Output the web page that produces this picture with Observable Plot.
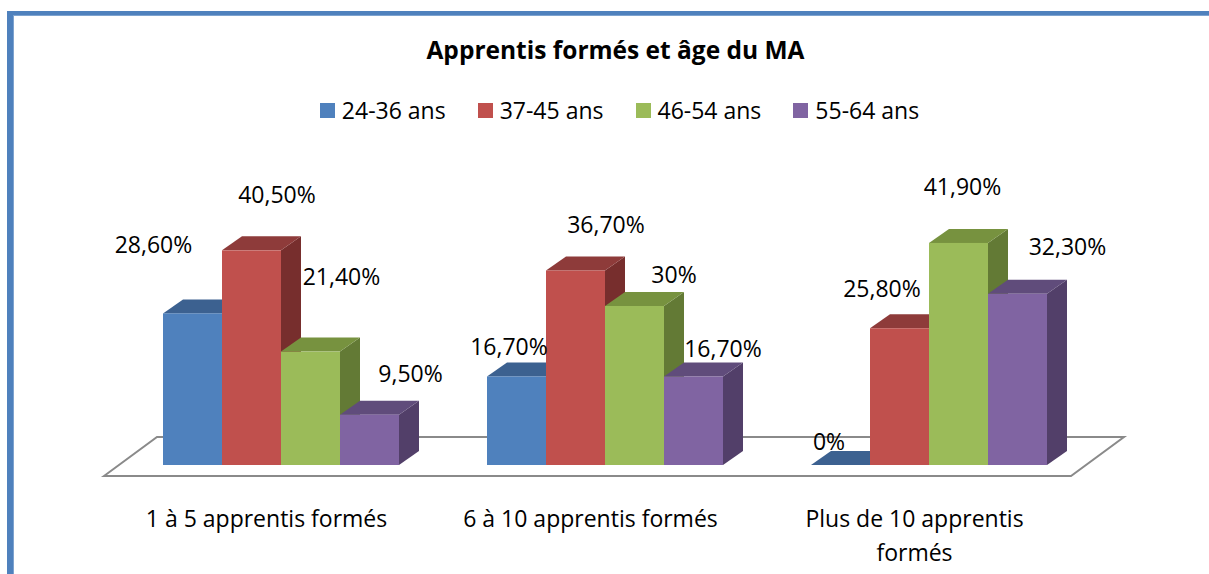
<!DOCTYPE html>
<html><head><meta charset="utf-8">
<script src="https://cdn.jsdelivr.net/npm/d3@7"></script>
<script src="https://cdn.jsdelivr.net/npm/@observablehq/plot@0.6"></script>
<style>
html,body{margin:0;padding:0;background:#fff;overflow:hidden;}
body{width:1209px;height:574px;position:relative;font-family:"Open Sans",sans-serif;color:#000;}
#frame{position:absolute;left:7px;top:11px;width:1300px;height:700px;border-left:6px solid #4f81bd;border-top:4px solid #4f81bd;box-sizing:border-box;box-shadow:inset 1px 1px 0 #7ea3cf;}
#title{position:absolute;top:35px;left:0;width:1209px;padding-left:22px;box-sizing:border-box;text-align:center;font-weight:700;font-size:24.5px;line-height:30px;}
#legend{position:absolute;top:95px;left:0;width:1209px;padding-left:30px;box-sizing:border-box;display:flex;justify-content:center;gap:32px;font-size:23px;line-height:30px;}
.item{display:flex;align-items:center;gap:7px;}
.sw{width:15px;height:15px;}
#chart{position:absolute;top:140px;left:0;}
</style></head>
<body>
<div id="frame"></div>
<div id="title"></div>
<div id="legend"></div>
<div id="chart"></div>
<script>
// ---- data ----
const chartTitle = "Apprentis formés et âge du MA";
const categories = ["1 à 5 apprentis formés", "6 à 10 apprentis formés", "Plus de 10 apprentis formés"];
const tickLabels = ["1 à 5 apprentis formés", "6 à 10 apprentis formés", "Plus de 10 apprentis\nformés"];
const ages = ["24-36 ans", "37-45 ans", "46-54 ans", "55-64 ans"];
const v24_36 = [28.6, 16.7, 0];
const v37_45 = [40.5, 36.7, 25.8];
const v46_54 = [21.4, 30, 41.9];
const v55_64 = [9.5, 16.7, 32.3];

// ---- styles ----
const frontColors = ["#4f81bd", "#c0504d", "#9bbb59", "#8064a2"];
const topColors = ["#3c6190", "#8e3b3a", "#77923f", "#604c7b"];
const sideColors = ["#34557e", "#772e2d", "#637a35", "#523f69"];
const DEPTH_X = 20, DEPTH_Y = -14;
// label nudges (px, relative to bar front-top centre), per category then age group
const labelNudges = [
  [[-39, -60], [25.5, -47], [31, -67], [41, -33]],
  [[-7.5, -21], [30.5, -37], [39.5, -23], [29.5, -19]],
  [[-11.5, -15], [-17.5, -31], [4, -48], [50, -38.5]]
];

const series = [v24_36, v37_45, v46_54, v55_64];
const rows = categories.flatMap((cat, ci) => ages.map((age, ai) => ({cat, age, value: series[ai][ci]})));
const fmt = v => (Number.isInteger(v) ? String(v) : v.toFixed(2).replace(".", ",")) + "%";

document.getElementById("title").textContent = chartTitle;
const legend = d3.select("#legend");
ages.forEach((a, i) => {
  const it = legend.append("div").attr("class", "item");
  it.append("div").attr("class", "sw").style("background", frontColors[i]);
  it.append("span").text(a);
});

const SVGNS = "http://www.w3.org/2000/svg";
function el(ctx, name) { return (ctx && ctx.document ? ctx.document : document).createElementNS(SVGNS, name); }
function bandwidthOf(s) { return typeof s.bandwidth === "function" ? s.bandwidth() : s.bandwidth; }
const pts = a => a.map(p => p.join(",")).join(" ");

function orderOf(index, values) {
  return Array.from(index).sort((i, j) =>
    (values.x[i] - values.x[j]) || (ages.indexOf(rows[i].age) - ages.indexOf(rows[j].age)));
}

function bars3d(index, scales, values, dims, ctx) {
  const g = el(ctx, "g");
  const sub = bandwidthOf(scales.x) / ages.length;
  const y0 = scales.y(0);
  for (const i of orderOf(index, values)) {
    const k = ages.indexOf(rows[i].age);
    const x0 = values.x[i] + k * sub, x1 = x0 + sub;
    const yt = scales.y(rows[i].value);
    const side = el(ctx, "polygon");
    side.setAttribute("points", pts([[x1, yt], [x1 + DEPTH_X, yt + DEPTH_Y], [x1 + DEPTH_X, y0 + DEPTH_Y], [x1, y0]]));
    side.setAttribute("fill", sideColors[k]);
    g.appendChild(side);
    const top = el(ctx, "polygon");
    top.setAttribute("points", pts([[x0, yt], [x1, yt], [x1 + DEPTH_X, yt + DEPTH_Y], [x0 + DEPTH_X, yt + DEPTH_Y]]));
    top.setAttribute("fill", topColors[k]);
    g.appendChild(top);
    const front = el(ctx, "rect");
    front.setAttribute("x", x0); front.setAttribute("y", yt);
    front.setAttribute("width", sub); front.setAttribute("height", Math.max(0, y0 - yt));
    front.setAttribute("fill", values.fill ? values.fill[i] : frontColors[k]);
    g.appendChild(front);
  }
  return g;
}

function labels3d(index, scales, values, dims, ctx) {
  const g = el(ctx, "g");
  g.setAttribute("font-size", 23);
  g.setAttribute("text-anchor", "middle");
  g.setAttribute("fill", "#000");
  const sub = bandwidthOf(scales.x) / ages.length;
  for (const i of orderOf(index, values)) {
    const k = ages.indexOf(rows[i].age);
    const c = categories.indexOf(rows[i].cat);
    const [ndx, ndy] = labelNudges[c][k];
    const cx = values.x[i] + (k + 0.5) * sub;
    const yt = scales.y(rows[i].value);
    const t = el(ctx, "text");
    t.setAttribute("x", cx + ndx);
    t.setAttribute("y", yt + ndy);
    t.textContent = fmt(rows[i].value);
    g.appendChild(t);
  }
  return g;
}

function floor3d(index, scales, values, dims, ctx) {
  const y0 = scales.y(0);
  const fl = dims.marginLeft + 29, fr = dims.width - dims.marginRight - 64;
  const back = 53;
  const p = el(ctx, "polygon");
  p.setAttribute("points", pts([[fl, y0 + 11], [fl + back, y0 - 28], [fr + back, y0 - 28], [fr, y0 + 11]]));
  p.setAttribute("fill", "#fff");
  p.setAttribute("stroke", "#8a8a8a");
  p.setAttribute("stroke-width", 2);
  return p;
}

const chart = Plot.plot({
  width: 1209,
  height: 434,
  marginLeft: 75,
  marginRight: 74,
  marginTop: 60,
  marginBottom: 109,
  x: {domain: categories, padding: 0.2716},
  y: {domain: [0, 50], axis: null},
  color: {domain: ages, range: frontColors},
  style: {fontFamily: "'Open Sans', sans-serif", fontSize: "23px", color: "#000", background: "transparent", overflow: "visible"},
  marks: [
    Plot.ruleY([0], {render: floor3d}),
    Plot.barY(rows, {x: "cat", y: "value", fill: "age", render: bars3d}),
    Plot.barY(rows, {x: "cat", y: "value", render: labels3d}),
    Plot.axisX({tickSize: 0, tickPadding: 37, dx: -15, fontSize: 23, lineHeight: 1.48, label: null,
      tickFormat: d => tickLabels[categories.indexOf(d)], fill: "#000"})
  ]
});
document.getElementById("chart").appendChild(chart);
</script>
</body></html>
